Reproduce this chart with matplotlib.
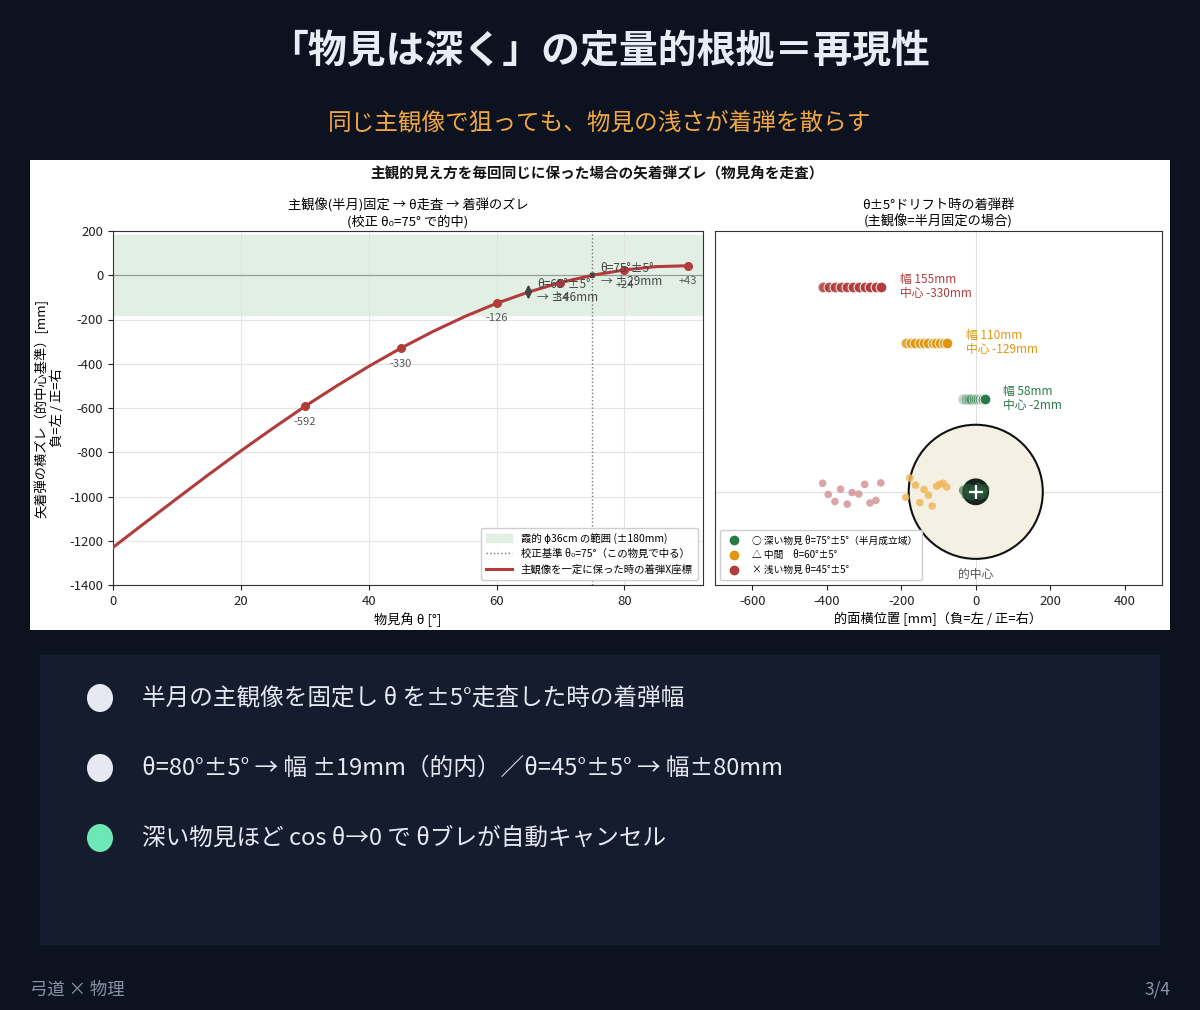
import matplotlib
matplotlib.use("Agg")
import matplotlib.pyplot as plt
from matplotlib.patches import Rectangle, Circle, Ellipse
from matplotlib.lines import Line2D

plt.rcParams['font.family'] = ['Noto Sans CJK JP', 'DejaVu Sans']
plt.rcParams['axes.unicode_minus'] = False

# ---------------- data ----------------
title = "「物見は深く」の定量的根拠＝再現性"
subtitle = "同じ主観像で狙っても、物見の浅さが着弾を散らす"
chart_title = "主観的見え方を毎回同じに保った場合の矢着弾ズレ（物見角を走査）"

theta_curve = [0, 5, 10, 15, 20, 25, 30, 35, 40, 45, 50, 55, 60, 65, 70, 75, 80, 85, 90]
offset_curve = [-1230, -1119, -1009, -900, -794, -692, -593, -500, -412, -330,
                -255, -187, -127, -76, -33, 0, 24, 39, 43]

theta_marks = [30, 45, 60, 70, 80, 90]
offset_marks = [-592, -330, -126, -34, 24, 43]
mark_labels = ["-592", "-330", "-126", "-34", "+24", "+43"]

# drift rows (θ±5° scanned, 11 samples each)
row_red = [-411, -394, -378, -361, -345, -329, -314, -298, -283, -269, -254]
row_orange = [-187, -174, -162, -150, -138, -127, -116, -106, -95, -85, -76]
row_green = [-33, -26, -19, -12, -6, 0, 6, 11, 16, 20, 24]
row_levels = [550, 400, 250]
row_texts = ["幅 155mm\n中心 -330mm", "幅 110mm\n中心 -129mm", "幅 58mm\n中心 -2mm"]

# hits on target face
hits_red_x = [-411, -396, -378, -363, -345, -332, -314, -298, -284, -268, -255]
hits_red_y = [23, -7, -26, 7, -33, -2, -6, 20, -30, -23, 24]
hits_orange_x = [-188, -177, -162, -150, -139, -127, -117, -105, -97, -88, -78]
hits_orange_y = [-15, 37, 18, -29, 6, -9, -38, 15, 20, 23, 13]
hits_green_x = [-33, -26, -19, -12, -6, 0, 6, 11, 16, 20, 24]
hits_green_y = [4, -8, 10, -12, 6, -3, 12, -10, 3, -6, 8]

bullets = [
    "半月の主観像を固定し θ を±5°走査した時の着弾幅",
    "θ=80°±5° → 幅 ±19mm（的内）／θ=45°±5° → 幅±80mm",
    "深い物見ほど cos θ→0 で θブレが自動キャンセル",
]
bullet_colors = ["#e6e9f2", "#e6e9f2", "#6ee7b7"]

RED = "#b23b3b"
ORANGE = "#e0960f"
GREEN = "#2a7a45"

# ---------------- figure ----------------
W, H = 1200, 1010
fig = plt.figure(figsize=(12, 10.1), dpi=100)
fig.patch.set_facecolor("#0c1220")

def fx(px):
    return px / W

def fy(py):
    return 1 - py / H

fig.text(0.5, fy(52), title, ha="center", va="center", fontsize=28,
         fontweight="bold", color="#e8ecf5")
fig.text(0.5, fy(123), subtitle, ha="center", va="center", fontsize=17,
         color="#f0a742")

# white chart panel
fig.patches.append(Rectangle((fx(30), fy(630)), fx(1140), 470 / H,
                             transform=fig.transFigure, facecolor="white",
                             edgecolor="none", zorder=-5))
fig.text(fx(597), fy(173), chart_title, ha="center", va="center",
         fontsize=10.5, fontweight="bold", color="#111")

# bottom card
fig.patches.append(Rectangle((fx(40), fy(945)), fx(1120), 290 / H,
                             transform=fig.transFigure, facecolor="#141c2e",
                             edgecolor="none", zorder=-5))
for i, (txt, col) in enumerate(zip(bullets, bullet_colors)):
    yy = 698 + 70 * i
    fig.patches.append(Ellipse((fx(100), fy(yy)), 26 / W, 28 / H,
                               transform=fig.transFigure, facecolor=col,
                               edgecolor="none", zorder=2))
    fig.text(fx(142), fy(yy), txt, ha="left", va="center", fontsize=17,
             color="#e6e9f2")

fig.text(fx(30), fy(990), "弓道 × 物理", ha="left", va="center",
         fontsize=12.5, color="#8a93a6")
fig.text(fx(1170), fy(990), "3/4", ha="right", va="center",
         fontsize=12.5, color="#8a93a6")

# ---------------- left axes ----------------
ax = fig.add_axes([fx(113), fy(585), 590 / W, 354 / H])
ax.set_xlim(0, 92.3)
ax.set_ylim(-1400, 200)
ax.axhspan(-180, 180, color="#e2efe5", zorder=0, label="霞的 ϕ36cm の範囲 (±180mm)")
ax.grid(True, color="#e4e4e4", lw=0.8, zorder=0)
ax.set_axisbelow(True)
ax.axhline(0, color="#999999", lw=0.9, zorder=1)
ax.axvline(75, color="#777777", lw=1.0, ls=":", zorder=1,
           label="校正基準 θ₀=75°（この物見で中る）")
ax.plot(theta_curve, offset_curve, color=RED, lw=2.2, zorder=3,
        label="主観像を一定に保った時の着弾X座標")
ax.scatter(theta_marks, offset_marks, s=30, color=RED, zorder=4)
for t, v, lab in zip(theta_marks, offset_marks, mark_labels):
    ax.annotate(lab, (t, v), xytext=(0, -11), textcoords="offset points",
                ha="center", va="center", fontsize=8, color="#555555", zorder=5)

ax.annotate("", xy=(65, -110), xytext=(65, -42),
            arrowprops=dict(arrowstyle="<|-|>", color="#444444", lw=1.4,
                            mutation_scale=9, shrinkA=0, shrinkB=0), zorder=5)
ax.text(66.3, -72, "θ=65°±5°\n→ ±46mm", ha="left", va="center",
        fontsize=8.5, color="#444444", linespacing=1.0, zorder=5)
ax.annotate("", xy=(75, -16), xytext=(75, 16),
            arrowprops=dict(arrowstyle="<|-|>", color="#444444", lw=1.3,
                            mutation_scale=6, shrinkA=0, shrinkB=0), zorder=5)
ax.text(76.3, 0, "θ=75°±5°\n→ ±29mm", ha="left", va="center",
        fontsize=8.5, color="#444444", linespacing=1.0, zorder=5)

ax.set_xticks([0, 20, 40, 60, 80])
ax.set_yticks(list(range(-1400, 201, 200)))
ax.tick_params(labelsize=9.5, colors="#222222")
ax.set_xlabel("物見角 θ [°]", fontsize=9.5, labelpad=3)
ax.set_ylabel("矢着弾の横ズレ（的中心基準）[mm]\n負=左 / 正=右", fontsize=9.5,
              labelpad=4)
ax.set_title("主観像(半月)固定 → θ走査 → 着弾のズレ\n(校正 θ₀=75° で的中)",
             fontsize=9.5, pad=4, linespacing=1.2)
for s in ax.spines.values():
    s.set_color("#333333")
ax.legend(loc="lower right", fontsize=7.5, frameon=True, framealpha=0.95,
          edgecolor="#cccccc", handlelength=2.5, borderpad=0.5,
          labelspacing=0.5)

# ---------------- right axes ----------------
ax2 = fig.add_axes([fx(715), fy(585), 447 / W, 354 / H])
ax2.set_xlim(-700, 500)
ax2.set_ylim(-250, 700)
ax2.set_aspect("equal", adjustable="box")
ax2.axvline(0, color="#e0e0e0", lw=0.8, zorder=0)
ax2.axhline(0, color="#e0e0e0", lw=0.8, zorder=0)

ax2.add_patch(Circle((0, 0), 180, facecolor="#f5f0e4", edgecolor="#111111",
                     lw=1.5, zorder=1))
ax2.add_patch(Circle((0, 0), 36, facecolor="#16241b", edgecolor="none", zorder=2))
ax2.text(0, -222, "的中心", ha="center", va="center", fontsize=8.5, color="#555555")

n = len(row_red)
for xs, lvl, col, txt, a0 in zip([row_red, row_orange, row_green], row_levels,
                                 [RED, ORANGE, GREEN], row_texts, [0.85, 0.8, 0.3]):
    for i, x in enumerate(xs):
        a = a0 + (1 - a0) * i / (n - 1)
        ax2.scatter([x], [lvl], s=60, color=col, alpha=a, edgecolors="white",
                    linewidths=0.7, zorder=3)
    ax2.text(max(xs) + 50, lvl, txt, ha="left", va="center", fontsize=8.5,
             color=col, linespacing=1.1, zorder=4)

ax2.scatter(hits_red_x, hits_red_y, s=30, color="#d79a9d", alpha=0.9,
            edgecolors="none", zorder=3)
ax2.scatter(hits_orange_x, hits_orange_y, s=30, color="#efb75a", alpha=0.85,
            edgecolors="none", zorder=3)
ax2.scatter(hits_green_x, hits_green_y, s=45, color="#2c5e3c", alpha=0.6,
            edgecolors="none", zorder=3)
ax2.scatter([0], [0], marker="+", s=110, color="white", linewidths=1.6, zorder=5)

ax2.set_yticks([])
ax2.set_xticks([-600, -400, -200, 0, 200, 400])
ax2.tick_params(labelsize=9.5, colors="#222222")
ax2.set_xlabel("的面横位置 [mm]（負=左 / 正=右）", fontsize=9.5, labelpad=3)
ax2.set_title("θ±5°ドリフト時の着弾群\n(主観像=半月固定の場合)", fontsize=9.5, pad=4,
              linespacing=1.2)
for s in ax2.spines.values():
    s.set_color("#333333")
handles = [
    Line2D([], [], marker="o", ls="none", color=GREEN, markersize=6,
           label="○ 深い物見 θ=75°±5°（半月成立域）"),
    Line2D([], [], marker="o", ls="none", color=ORANGE, markersize=6,
           label="△ 中間　θ=60°±5°"),
    Line2D([], [], marker="o", ls="none", color=RED, markersize=6,
           label="× 浅い物見 θ=45°±5°"),
]
ax2.legend(handles=handles, loc="lower left", fontsize=7, frameon=True,
           framealpha=0.95, edgecolor="#cccccc", borderpad=0.5, labelspacing=0.5)

fig.savefig("out.png", dpi=100, facecolor=fig.get_facecolor())
